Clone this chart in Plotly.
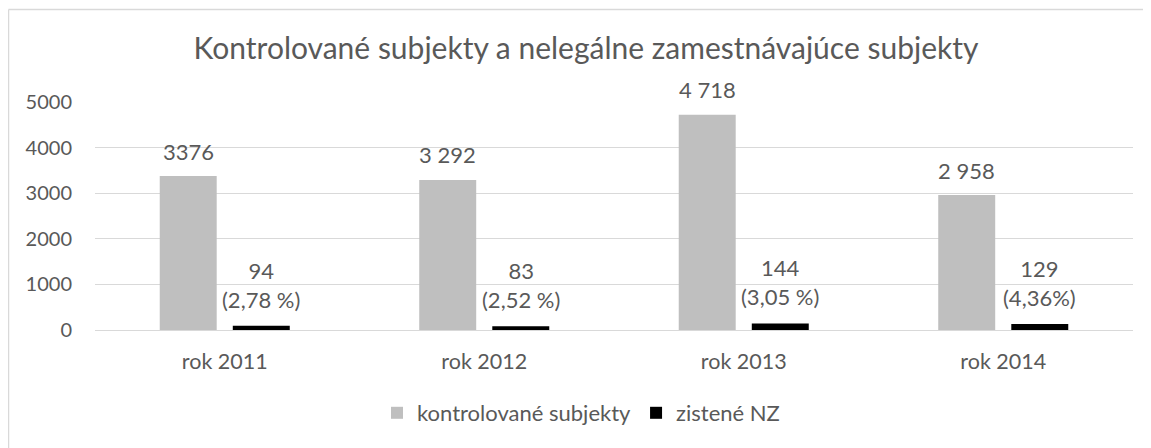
import plotly.graph_objects as go

categories = ["rok 2011", "rok 2012", "rok 2013", "rok 2014"]
kontrolovane = [3376, 3292, 4718, 2958]
zistene = [94, 83, 144, 129]
kontrolovane_labels = ["3376", "3 292", "4 718", "2 958"]
zistene_labels = ["94<br>(2,78 %)", "83<br>(2,52 %)", "144<br>(3,05 %)", "129<br>(4,36%)"]
y_ticks = [0, 1000, 2000, 3000, 4000, 5000]

FONT = "Lato"
TXT = "#595959"

# page body has an 8px offset; figure coordinates = screen - 8
L, R, T, B = 87, 1125, 94, 322  # plot area in figure px
W, H = 1143, 440
PW, PH = R - L, B - T

fig = go.Figure()
fig.add_trace(go.Bar(x=categories, y=kontrolovane, name="kontrolované subjekty",
                     marker=dict(color="#bfbfbf", line=dict(width=0))))
fig.add_trace(go.Bar(x=categories, y=zistene, name="zistené NZ",
                     marker=dict(color="#000000", line=dict(width=0))))

annotations = []
for c, v, t in zip(categories, kontrolovane, kontrolovane_labels):
    annotations.append(dict(x=c, y=v, text=t, showarrow=False, xshift=-36.5, yshift=25,
                            yanchor="middle", font=dict(size=22, color=TXT, family=FONT)))
for c, v, t in zip(categories, zistene, zistene_labels):
    annotations.append(dict(x=c, y=v, text=t, showarrow=False, xshift=36.5, yshift=41,
                            yanchor="middle", font=dict(size=22, color=TXT, family=FONT)))

x_left = (0.5 - L) / PW
y_top = (B - 1.5) / PH
fig.update_layout(
    width=W, height=H,
    margin=dict(l=L, r=W - R, t=T, b=H - B),
    paper_bgcolor="white", plot_bgcolor="white",
    barmode="group", bargap=0.437, bargroupgap=0.22,
    font=dict(family=FONT, color=TXT, size=20),
    title=dict(text="Kontrolované subjekty a nelegálne zamestnávajúce subjekty",
               x=578 / W, xanchor="center", y=1 - 40 / H, yanchor="middle",
               font=dict(size=30, color=TXT, family=FONT)),
    legend=dict(orientation="h", x=(573 - L) / PW, xanchor="center",
                y=(B - 405) / PH, yanchor="middle",
                font=dict(size=22, color=TXT, family=FONT), itemwidth=30, tracegroupgap=0),
    xaxis=dict(showgrid=False, showline=False, zeroline=False, ticks="",
               tickfont=dict(size=21.5, color=TXT, family=FONT), ticklabelstandoff=16,
               automargin=False),
    yaxis=dict(range=[0, 5000], tickvals=y_ticks, showgrid=True, gridcolor="#d9d9d9",
               gridwidth=1, zeroline=True, zerolinecolor="#d9d9d9", zerolinewidth=1,
               showline=False, ticks="", tickfont=dict(size=20, color=TXT, family=FONT),
               ticklabelstandoff=22, automargin=False),
    annotations=annotations,
    shapes=[
        dict(type="line", xref="paper", yref="paper", x0=x_left, x1=(W - L) / PW,
             y0=y_top, y1=y_top, line=dict(color="#d9d9d9", width=1.5), layer="below"),
        dict(type="line", xref="paper", yref="paper", x0=x_left, x1=x_left,
             y0=y_top, y1=(B - H) / PH, line=dict(color="#d9d9d9", width=1.5), layer="below"),
    ],
    showlegend=True,
)

fig.write_html("out.html")
